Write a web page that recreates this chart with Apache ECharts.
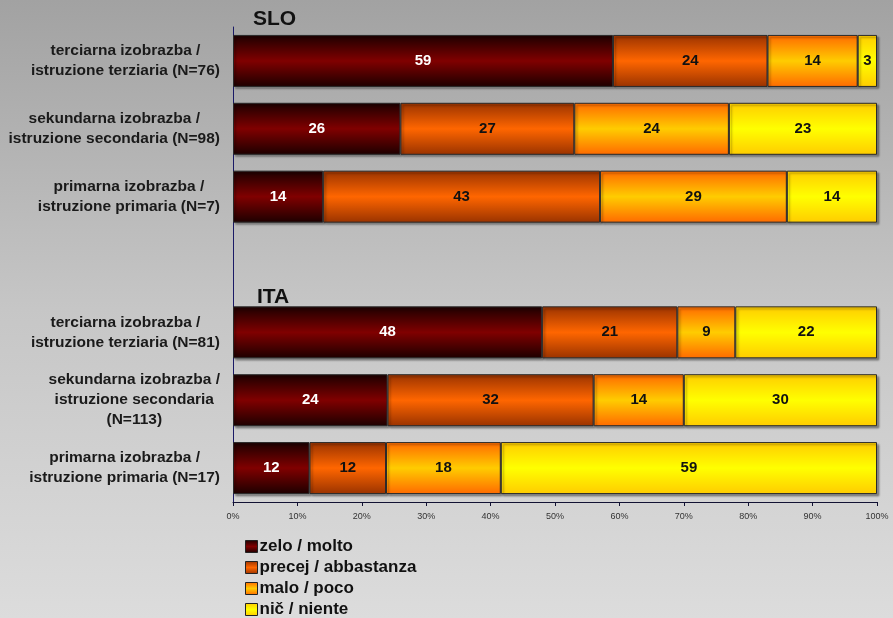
<!DOCTYPE html>
<html>
<head>
<meta charset="utf-8">
<script src="https://cdn.jsdelivr.net/npm/echarts@6/dist/echarts.min.js"></script>
<style>
  html, body { margin: 0; padding: 0; }
  #chart { width: 893px; height: 618px; }
</style>
</head>
<body>
<div id="chart"></div>
<script>
// Education groups, Slovenia (SLO) on top, Italy (ITA) below; '' is the spacer row.
const categories = [
  'terciarna izobrazba /\nistruzione terziaria (N=76)',
  'sekundarna izobrazba /\nistruzione secondaria (N=98)',
  'primarna izobrazba /\nistruzione primaria (N=7)',
  '',
  'terciarna izobrazba /\nistruzione terziaria (N=81)',
  'sekundarna izobrazba /\nistruzione secondaria\n(N=113)',
  'primarna izobrazba /\nistruzione primaria (N=17)'
];

const seriesNames = ['zelo / molto', 'precej / abbastanza', 'malo / poco', 'nič / niente'];

// Shares in percent per answer, one entry per row (null for spacer)
const zelo   = [59, 26, 14, null, 48, 24, 12];
const precej = [24, 27, 43, null, 21, 32, 12];
const malo   = [14, 24, 29, null,  9, 14, 18];
const nic    = [ 3, 23, 14, null, 22, 30, 59];

const xTicks = ['0%', '10%', '20%', '30%', '40%', '50%', '60%', '70%', '80%', '90%', '100%'];

const values = [zelo, precej, malo, nic];

// Vertical gradient: dark edges, bright middle
const palette = [
  ['#1c0000', '#800000'],
  ['#9a3300', '#ff6600'],
  ['#ff6a00', '#ffcc00'],
  ['#ffcc00', '#ffff00']
];
const labelColors = ['#ffffff', '#111111', '#111111', '#111111'];

function grad(edge, mid) {
  return new echarts.graphic.LinearGradient(0, 0, 0, 1, [
    { offset: 0, color: edge },
    { offset: 0.5, color: mid },
    { offset: 1, color: edge }
  ]);
}

// Each row is drawn as a 100% stack: segment length = value / row total
const rowTotals = categories.map((c, i) =>
  values.reduce((s, arr) => s + (arr[i] == null ? 0 : arr[i]), 0));

const series = values.map((arr, k) => ({
  name: seriesNames[k],
  type: 'bar',
  stack: 'total',
  barWidth: 52,
  data: arr.map((v, i) => v == null ? null : { value: v / rowTotals[i] * 100, raw: v }),
  itemStyle: {
    color: grad(palette[k][0], palette[k][1]),
    borderColor: '#2a2a2a',
    borderWidth: 1,
    shadowColor: 'rgba(0,0,0,0.35)',
    shadowOffsetX: 2,
    shadowOffsetY: 2,
    shadowBlur: 2
  },
  label: {
    show: true,
    position: 'inside',
    formatter: p => p.data ? String(p.data.raw) : '',
    color: labelColors[k],
    fontFamily: 'Liberation Sans, Arial, sans-serif',
    fontWeight: 'bold',
    fontSize: 15
  },
  emphasis: { disabled: true }
}));

const chart = echarts.init(document.getElementById('chart'), null, { renderer: 'canvas' });

const labelFont = {
  fontFamily: 'Liberation Sans, Arial, sans-serif',
  fontWeight: 'bold',
  fontSize: 15.5,
  lineHeight: 20,
  color: '#1a1a1a'
};

chart.setOption({
  animation: false,
  backgroundColor: new echarts.graphic.LinearGradient(0, 0, 0, 1, [
    { offset: 0, color: '#a2a2a2' },
    { offset: 0.5, color: '#c6c6c6' },
    { offset: 1, color: '#dcdcdc' }
  ]),
  title: [
    { text: 'SLO', left: 248, top: 4,
      textStyle: { fontFamily: 'Liberation Sans, Arial, sans-serif', fontWeight: 'bold', fontSize: 21, color: '#111' } },
    { text: 'ITA', left: 252, top: 282,
      textStyle: { fontFamily: 'Liberation Sans, Arial, sans-serif', fontWeight: 'bold', fontSize: 21, color: '#111' } }
  ],
  grid: { left: 233, right: 16, top: 27, bottom: 116, containLabel: false },
  xAxis: {
    type: 'value',
    min: 0, max: 100, interval: 10,
    axisLine: { show: true, lineStyle: { color: '#111133', width: 1 } },
    axisTick: { show: true, length: 4, lineStyle: { color: '#111133' } },
    splitLine: { show: false },
    axisLabel: {
      margin: 10,
      formatter: v => xTicks[Math.round(v / 10)],
      fontFamily: 'Liberation Sans, Arial, sans-serif',
      fontSize: 9,
      color: '#333'
    }
  },
  yAxis: {
    type: 'category',
    inverse: true,
    data: categories,
    axisLine: { show: true, lineStyle: { color: '#1a1a66', width: 1 } },
    axisTick: { show: false },
    axisLabel: {
      // block sits right-aligned next to the axis, its lines centred within it
      align: 'right',
      margin: 13,
      formatter: v => v ? v.split('\n').map(l => '{c|' + l + '}').join('\n') : '',
      ...labelFont,
      rich: { c: Object.assign({ align: 'center' }, labelFont) }
    }
  },
  legend: {
    orient: 'vertical',
    left: 240,
    top: 533,
    height: 84,
    itemWidth: 12,
    itemHeight: 12,
    itemGap: 4,
    icon: 'rect',
    data: seriesNames,
    itemStyle: { borderColor: '#222', borderWidth: 1 },
    textStyle: {
      fontFamily: 'Liberation Sans, Arial, sans-serif',
      fontWeight: 'bold',
      fontSize: 17,
      lineHeight: 17,
      color: '#111',
      padding: [0, 0, 0, -3]
    }
  },
  series: series
});
</script>
</body>
</html>
